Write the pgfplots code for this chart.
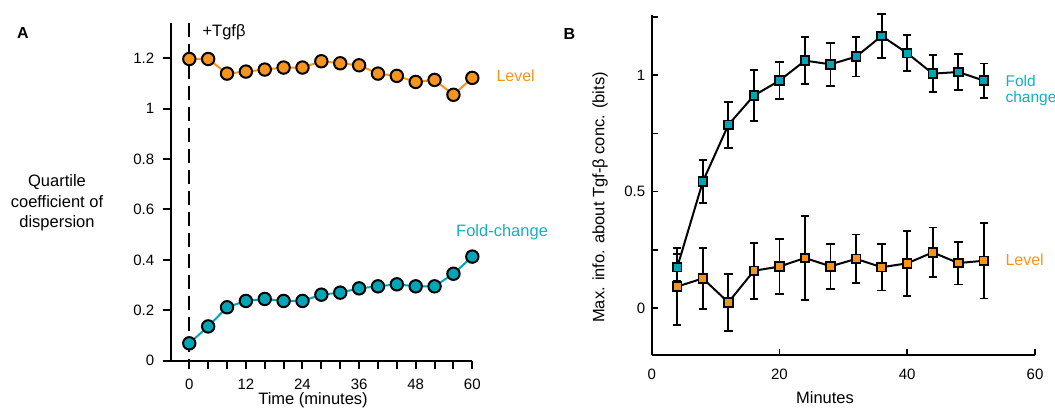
\documentclass[border=0pt]{standalone}
\usepackage{pgfplots}
\pgfplotsset{compat=1.18}
\usepackage{fontspec}
\setmainfont{Liberation Sans}
\definecolor{lvl}{RGB}{247,148,29}
\definecolor{fc}{RGB}{0,166,184}
\definecolor{fctext}{RGB}{20,176,194}
\begin{document}
\begin{tikzpicture}[x=1pt,y=1pt]
\useasboundingbox (0,0) rectangle (1055,409);
% ---------------- Panel A ----------------
\begin{axis}[
  at={(170.7pt,48.3pt)}, anchor=south west, scale only axis,
  width=301.6pt, height=338pt,
  xmin=-3.94, xmax=60, ymin=0, ymax=1.341,
  axis x line*=bottom, axis y line*=left,
  axis line style={line width=2pt,-},
  tick align=outside, major tick length=8pt,
  tick style={line width=2pt,black},
  xtick={0,4,...,60},
  xticklabels={0,,,12,,,24,,,36,,,48,,,60},
  ytick={0,0.2,0.4,0.6,0.8,1,1.2},
  yticklabels={0,0.2,0.4,0.6,0.8,1,1.2},
  /pgf/number format/assume math mode=true,
  tick label style={font=\fontsize{15}{18}\selectfont},
  xticklabel style={yshift=-7pt},
  yticklabel style={xshift=-5pt},
  clip=false,
]
\draw[line width=2pt] (rel axis cs:0,0) -- ++(-8pt,0);
\draw[line width=2pt, dash pattern=on 14pt off 7pt] (axis cs:0,1.341) -- (axis cs:0,-0.025);
\addplot[color=lvl, line width=2pt, mark=*, mark size=6.2pt,
  mark options={fill=lvl, draw=black, line width=2pt}] coordinates {
(0,1.197) (4,1.197) (8,1.139) (12,1.147) (16,1.155) (20,1.163) (24,1.163)
(28,1.188) (32,1.180) (36,1.172) (40,1.139) (44,1.130) (48,1.106)
(52,1.114) (56,1.055) (60,1.122)};
\addplot[color=fc, line width=2pt, mark=*, mark size=6.2pt,
  mark options={fill=fc, draw=black, line width=2pt}] coordinates {
(0,0.069) (4,0.136) (8,0.212) (12,0.237) (16,0.245) (20,0.237) (24,0.237)
(28,0.262) (32,0.270) (36,0.287) (40,0.295) (44,0.303) (48,0.295)
(52,0.295) (56,0.345) (60,0.413)};
\end{axis}
% ---------------- Panel B ----------------
\begin{axis}[
  at={(651.7pt,54pt)}, anchor=south west, scale only axis,
  width=383.3pt, height=340pt,
  xmin=0, xmax=60, ymin=-0.202, ymax=1.259,
  axis x line*=bottom, axis y line*=left,
  axis line style={line width=1.6pt,-},
  tick align=inside, major tick length=6pt,
  tick style={line width=1.6pt,black},
  xtick={0,20,40,60},
  ytick={0,0.25,0.5,0.75,1,1.25},
  yticklabels={0,,0.5,,1,},
  /pgf/number format/assume math mode=true,
  tick label style={font=\fontsize{15}{18}\selectfont},
  xticklabel style={yshift=-10pt},
  yticklabel style={xshift=-3pt},
  clip=false,
]
\addplot[color=black, line width=2pt, mark=square*, mark size=4.3pt,
  mark options={fill=lvl, draw=black, line width=1.8pt},
  error bars/.cd, y dir=both, y explicit,
  error bar style={line width=1.8pt, black},
  error mark options={rotate=90, mark size=4.2pt, line width=1.8pt, black}]
coordinates {
(4,0.092) +- (0,0.165)
(8,0.127) +- (0,0.13)
(12,0.024) +- (0,0.122)
(16,0.160) +- (0,0.12)
(20,0.178) +- (0,0.117)
(24,0.215) +- (0,0.18)
(28,0.179) +- (0,0.097)
(32,0.211) +- (0,0.105)
(36,0.175) +- (0,0.10)
(40,0.192) +- (0,0.14)
(44,0.239) +- (0,0.107)
(48,0.193) +- (0,0.092)
(52,0.203) +- (0,0.162)};
\addplot[color=black, line width=2pt, mark=square*, mark size=4.3pt,
  mark options={fill=fc, draw=black, line width=1.8pt},
  error bars/.cd, y dir=both, y explicit,
  error bar style={line width=1.8pt, black},
  error mark options={rotate=90, mark size=4.2pt, line width=1.8pt, black}]
coordinates {
(4,0.175) +- (0,0.057)
(8,0.543) +- (0,0.092)
(12,0.787) +- (0,0.098)
(16,0.913) +- (0,0.111)
(20,0.977) +- (0,0.079)
(24,1.063) +- (0,0.101)
(28,1.047) +- (0,0.093)
(32,1.080) +- (0,0.085)
(36,1.169) +- (0,0.095)
(40,1.095) +- (0,0.077)
(44,1.007) +- (0,0.079)
(48,1.014) +- (0,0.077)
(52,0.977) +- (0,0.074)};
\end{axis}
% ---------------- Texts ----------------
\node[font=\fontsize{16}{19}\bfseries\selectfont] at (23,375.5) {A};
\node[font=\fontsize{16}{19}\bfseries\selectfont] at (569.5,375.2) {B};
\node[anchor=base west, font=\fontsize{16.5}{19}\selectfont] at (199,372) {+Tgfβ};
\node[anchor=base west, font=\fontsize{16}{19}\selectfont, text=lvl] at (493,327.3) {Level};
\node[anchor=base west, font=\fontsize{16.5}{19}\selectfont, text=fctext] at (452.7,172) {Fold-change};
\node[anchor=base, font=\fontsize{16.5}{19}\selectfont] at (57,222) {Quartile};
\node[anchor=base, font=\fontsize{16.5}{19}\selectfont] at (57,201) {coefficient of};
\node[anchor=base, font=\fontsize{16.5}{19}\selectfont] at (57,181) {dispersion};
\node[font=\fontsize{16.5}{19}\selectfont] at (313,9) {Time (minutes)};
\node[font=\fontsize{16.5}{19}\selectfont, rotate=90] at (600,211.5) {Max. info. about Tgf-β conc. (bits)};
\node[font=\fontsize{16.5}{19}\selectfont] at (825,11.5) {Minutes};
\node[anchor=base west, font=\fontsize{15.5}{19}\selectfont, text=fctext] at (1002,322) {Fold};
\node[anchor=base west, font=\fontsize{15.5}{19}\selectfont, text=fctext] at (1002,306.3) {change};
\node[anchor=base west, font=\fontsize{16}{19}\selectfont, text=lvl] at (1002,143) {Level};
\end{tikzpicture}
\end{document}
